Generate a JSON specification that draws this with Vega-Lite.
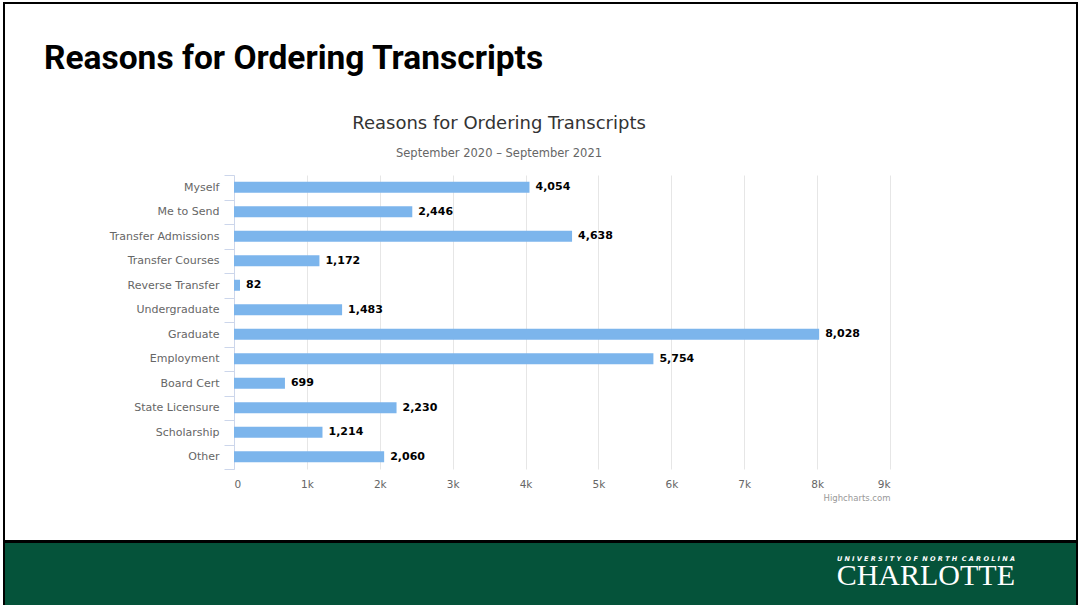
{
  "$schema": "https://vega.github.io/schema/vega-lite/v6.json",
  "background": "white",
  "autosize": "none",
  "padding": {"left": 4, "top": 3, "right": 1075, "bottom": 602},
  "title": {
    "text": "Reasons for Ordering Transcripts",
    "anchor": "start",
    "dx": 41,
    "font": "Roboto",
    "fontSize": 33.5,
    "fontWeight": "bold",
    "color": "black",
    "offset": -80
  },
  "vconcat": [
    {
      "width": 1073,
      "height": 538,
      "view": {"stroke": "black", "strokeWidth": 2},
      "title": {
        "text": "Reasons for Ordering Transcripts",
        "subtitle": "September 2020 – September 2021",
        "anchor": "middle",
        "frame": "group",
        "dx": -41.5,
        "font": "DejaVu Sans",
        "fontSize": 18,
        "fontWeight": "normal",
        "color": "#333333",
        "subtitleFont": "DejaVu Sans",
        "subtitleFontSize": 11.5,
        "subtitleColor": "#666666",
        "subtitlePadding": 15,
        "offset": -162
      },
      "data": {
        "values": [
          {"reason": "Myself", "count": 4054},
          {"reason": "Me to Send", "count": 2446},
          {"reason": "Transfer Admissions", "count": 4638},
          {"reason": "Transfer Courses", "count": 1172},
          {"reason": "Reverse Transfer", "count": 82},
          {"reason": "Undergraduate", "count": 1483},
          {"reason": "Graduate", "count": 8028},
          {"reason": "Employment", "count": 5754},
          {"reason": "Board Cert", "count": 699},
          {"reason": "State Licensure", "count": 2230},
          {"reason": "Scholarship", "count": 1214},
          {"reason": "Other", "count": 2060}
        ]
      },
      "encoding": {
        "y": {
          "field": "reason",
          "type": "nominal",
          "sort": null,
          "scale": {"range": [172, 466], "paddingInner": 0, "paddingOuter": 0},
          "axis": {
            "title": null,
            "offset": -230,
            "minExtent": 0,
            "tickBand": "extent",
            "tickSize": 10,
            "tickColor": "#ccd6eb",
            "domainColor": "#ccd6eb",
            "labelFont": "DejaVu Sans",
            "labelFontSize": 11,
            "labelColor": "#666666",
            "labelPadding": 5,
            "grid": false
          }
        },
        "x": {
          "field": "count",
          "type": "quantitative",
          "scale": {"domain": [0, 9000], "nice": false, "range": [230, 886]},
          "axis": {
            "orient": "top",
            "offset": -466,
            "values": [0, 1000, 2000, 3000, 4000, 5000, 6000, 7000, 8000, 9000],
            "labelExpr": "datum.value == 0 ? '0' : (datum.value / 1000) + 'k'",
            "domain": false,
            "ticks": false,
            "grid": true,
            "gridColor": "#e6e6e6",
            "labelFont": "DejaVu Sans",
            "labelFontSize": 10.5,
            "labelColor": "#666666",
            "labelPadding": -20,
            "title": "Highcharts.com",
            "titleX": 886,
            "titleY": 28,
            "titleAlign": "right",
            "titleBaseline": "middle",
            "titleFont": "DejaVu Sans",
            "titleFontSize": 8.5,
            "titleFontWeight": "normal",
            "titleColor": "#999999"
          }
        }
      },
      "layer": [
        {"mark": {"type": "bar", "color": "#7cb5ec", "size": 11}},
        {
          "mark": {"type": "text", "align": "left", "dx": 6, "font": "DejaVu Sans", "fontSize": 11, "fontWeight": "bold", "color": "black"},
          "encoding": {"text": {"field": "count", "type": "quantitative", "format": ","}}
        }
      ]
    },
    {
      "width": 1073,
      "height": 65,
      "view": {"fill": "#05533a", "stroke": "black", "strokeWidth": 2},
      "data": {"values": []},
      "mark": "rect",
      "title": {
        "text": "U N I V E R S I T Y\u00a0\u00a0O F\u00a0\u00a0N O R T H\u00a0\u00a0C A R O L I N A",
        "subtitle": "CHARLOTTE",
        "anchor": "end",
        "frame": "group",
        "dx": -62,
        "offset": -49,
        "font": "DejaVu Sans",
        "fontSize": 6.5,
        "fontStyle": "italic",
        "fontWeight": "bold",
        "color": "white",
        "subtitleFont": "Liberation Serif",
        "subtitleFontSize": 30,
        "subtitleColor": "white",
        "subtitlePadding": -1
      }
    }
  ],
  "spacing": -2,
  "config": {"view": {"stroke": null}}
}
